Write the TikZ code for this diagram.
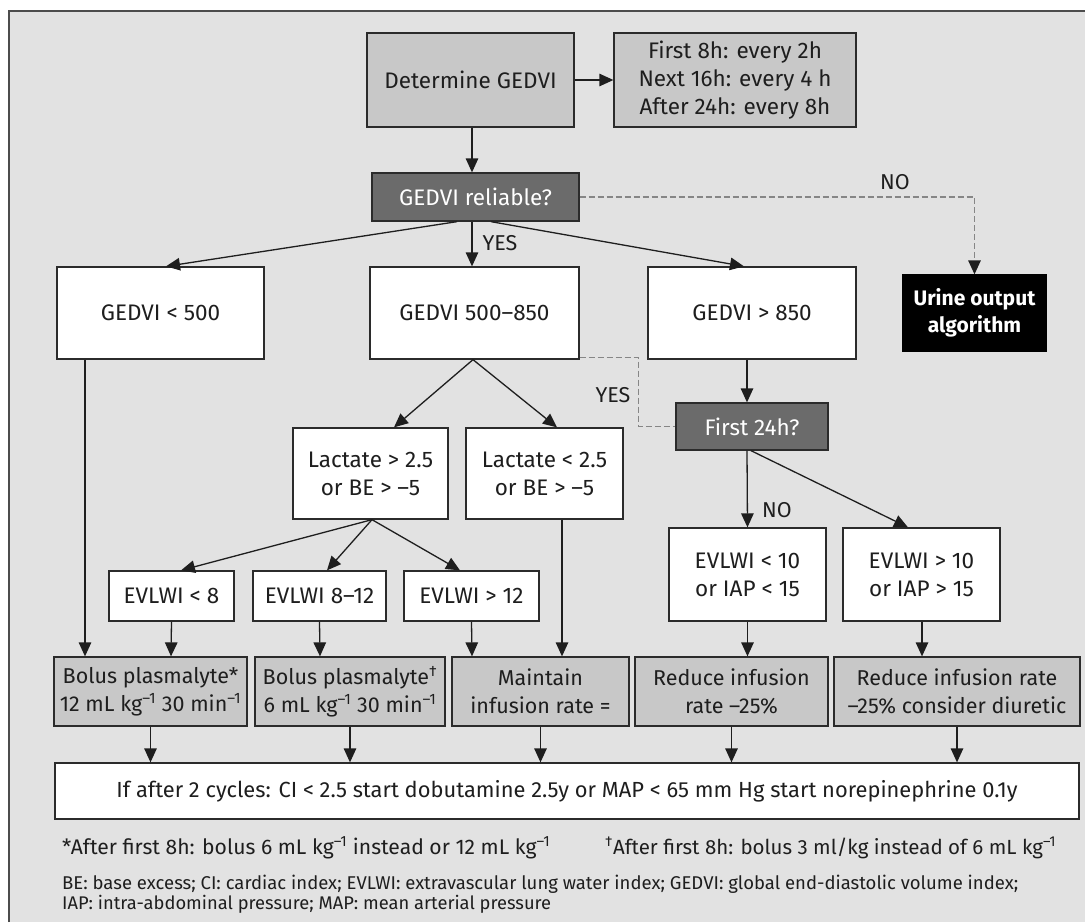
\documentclass[tikz,border=0pt]{standalone}
\usepackage{fontspec}
\usepackage{graphicx}
\setmainfont{Fira Sans}
\usetikzlibrary{arrows.meta,calc}
\definecolor{bg}{HTML}{E2E2E2}
\definecolor{boxgray}{HTML}{C8C8C8}
\definecolor{darkfill}{HTML}{6B6B6B}
\definecolor{edge}{HTML}{2B2B2B}
\definecolor{dashgray}{HTML}{868686}
\definecolor{ink}{HTML}{1E1E1E}
\newcommand{\fitto}[2]{\resizebox{#1}{!}{#2}}
\begin{document}
\begin{tikzpicture}[x=1pt,y=-1pt,
  box/.style={draw=edge, line width=1.3pt, fill=white, align=center, inner sep=0pt,
    font=\fontsize{22.5}{28}\selectfont, text=ink},
  graybox/.style={box, fill=boxgray},
  actbox/.style={box, fill=boxgray, font=\fontsize{21.5}{28}\selectfont},
  darkbox/.style={box, fill=darkfill, text=white},
  blackbox/.style={box, fill=black, draw=black, text=white, font=\fontsize{21}{27}\selectfont\bfseries},
  arr/.style={line width=1.3pt, draw=ink, -{Triangle[length=14pt,width=12.5pt]}},
  dashln/.style={line width=1.4pt, draw=dashgray, dash pattern=on 6pt off 3pt},
  lbl/.style={font=\fontsize{21.5}{22}\selectfont, inner sep=0pt, text=ink},
  note/.style={inner sep=0pt, anchor=west, text=ink, font=\fontsize{20}{24}\selectfont}]
\useasboundingbox (0,0) rectangle (1085,922);
\fill[bg] (9,11) rectangle (1085,922);
\draw[line width=2pt, draw=black!70] (9,922) -- (9,11) -- (1085,11);

% top
\node[graybox, minimum width=207pt, minimum height=94pt] (det) at (470.5,80) {Determine GEDVI};
\node[graybox, minimum width=242pt, minimum height=94pt] (sched) at (735,80) {First 8h: every 2h\\Next 16h: every 4 h\\After 24h: every 8h};
\node[darkbox, minimum width=207pt, minimum height=48pt] (rel) at (475.5,197) {GEDVI reliable?};
\node[blackbox, minimum width=143pt, minimum height=76pt] (urine) at (974.5,313) {Urine output\\algorithm};

% GEDVI level
\node[box, minimum width=207pt, minimum height=92pt] (g500) at (160.5,313) {GEDVI < 500};
\node[box, minimum width=209pt, minimum height=92pt] (gmid) at (474.5,313) {GEDVI 500–850};
\node[box, minimum width=208pt, minimum height=92pt] (g850) at (752,313) {GEDVI > 850};
\node[darkbox, minimum width=152pt, minimum height=47pt] (first) at (752,426.5) {First 24h?};

% lactate level
\node[box, minimum width=155pt, minimum height=91pt] (lacH) at (370.5,473.5) {Lactate > 2.5\\or BE > –5};
\node[box, minimum width=157pt, minimum height=91pt] (lacL) at (544.5,473.5) {Lactate < 2.5\\or BE > –5};

% EVLWI level
\node[box, minimum width=125pt, minimum height=50pt] (ev8) at (171.5,596) {EVLWI < 8};
\node[box, minimum width=133pt, minimum height=50pt] (ev812) at (319.5,596) {EVLWI 8–12};
\node[box, minimum width=135pt, minimum height=50pt] (ev12) at (471.5,596) {EVLWI > 12};
\node[box, minimum width=157pt, minimum height=93pt] (evL) at (747.5,574.5) {EVLWI < 10\\or IAP < 15};
\node[box, minimum width=157pt, minimum height=93pt] (evH) at (921.5,574.5) {EVLWI > 10\\or IAP > 15};

% actions
\node[actbox, minimum width=193pt, minimum height=69pt] (bol1) at (150.5,691.5) {Bolus plasmalyte*\\12 mL kg\textsuperscript{–1} 30 min\textsuperscript{–1}};
\node[actbox, minimum width=190pt, minimum height=69pt] (bol2) at (350,691.5) {Bolus plasmalyte\textsuperscript{†}\\6 mL kg\textsuperscript{–1} 30 min\textsuperscript{–1}};
\node[actbox, minimum width=177pt, minimum height=69pt] (maint) at (540.5,691.5) {Maintain\\infusion rate =};
\node[actbox, minimum width=193pt, minimum height=69pt] (red1) at (731.5,691.5) {Reduce infusion\\rate –25\%};
\node[actbox, minimum width=246pt, minimum height=69pt] (red2) at (957,691.5) {Reduce infusion rate\\–25\% consider diuretic};

\node[box, minimum width=1024pt, minimum height=56pt] (final) at (567,791) {\fitto{901pt}{If after 2 cycles: CI < 2.5 start dobutamine 2.5y or MAP < 65 mm Hg start norepinephrine 0.1y}};

% footnotes
\node[note] (fn1) at (62,848) {\fitto{488pt}{*After first 8h: bolus 6 mL kg\textsuperscript{–1} instead or 12 mL kg\textsuperscript{–1}}};
\node[note] (fn2) at (605,848) {\fitto{451pt}{\textsuperscript{†}After first 8h: bolus 3 ml/kg instead of 6 mL kg\textsuperscript{–1}}};
\node[note] (ab1) at (62,884) {\fitto{956pt}{BE: base excess; CI: cardiac index; EVLWI: extravascular lung water index; GEDVI: global end-diastolic volume index;}};
\node[note] (ab2) at (62,904) {\fitto{489pt}{IAP: intra-abdominal pressure; MAP: mean arterial pressure}};

% connectors top
\draw[arr] (det.east) -- (sched.west);
\draw[arr] ([xshift=1.5pt]det.south) -- ([xshift=-3.5pt]rel.north);
\draw[arr] ([xshift=-18.5pt]rel.south) -- ([xshift=5.5pt]g500.north);
\draw[arr] ([xshift=-3.5pt]rel.south) -- ([xshift=-2.5pt]gmid.north);
\draw[arr] ([xshift=15.5pt]rel.south) -- ([xshift=-8pt]g850.north);
\draw[dashln, -{Triangle[length=14pt,width=12.5pt,ink]}] (rel.east) -| (urine.north);
\node[lbl] (no1) at (895,182) {NO};
\node[lbl] (yes1) at (500,243) {YES};

% from GEDVI level
\draw[arr] ([xshift=-75.5pt]g500.south) -- ([xshift=-65.5pt]bol1.north);
\draw[arr] ([xshift=-1.5pt]gmid.south) -- ([xshift=23.5pt]lacH.north);
\draw[arr] ([xshift=-1.5pt]gmid.south) -- ([xshift=12.5pt]lacL.north);
\draw[dashln] ([yshift=2pt]gmid.south east) -- ++(59,0) coordinate (ybend) |- (first.west);
\node[lbl] (yes2) at (613,395) {YES};
\draw[arr] ([xshift=-5pt]g850.south) -- ([xshift=-5pt]first.north);

% from First 24h
\draw[arr] ([xshift=-5pt]first.south) -- (evL.north);
\draw[arr] ([xshift=-1pt]first.south) -- ([xshift=-13.5pt]evH.north);
\node[lbl] (no2) at (777,510) {NO};

% from lactate
\draw[arr] ([xshift=1.5pt]lacH.south) -- ([xshift=9.5pt]ev8.north);
\draw[arr] ([xshift=1.5pt]lacH.south) -- ([xshift=7.5pt]ev812.north);
\draw[arr] ([xshift=1.5pt]lacH.south) -- ([xshift=-11.5pt]ev12.north);
\draw[arr] ([xshift=17.5pt]lacL.south) -- ([xshift=21.5pt]maint.north);

% from EVLWI
\draw[arr] (ev8.south) -- ([xshift=20.5pt]bol1.north);
\draw[arr] (ev812.south) -- ([xshift=-30pt]bol2.north);
\draw[arr] (ev12.south) -- ([xshift=-68.5pt]maint.north);
\draw[arr] (evL.south) -- ([xshift=16pt]red1.north);
\draw[arr] ([xshift=0.5pt]evH.south) -- ([xshift=-35pt]red2.north);

% to final
\draw[arr] (bol1.south) -- (bol1.south |- final.north);
\draw[arr] (bol2.south) -- (bol2.south |- final.north);
\draw[arr] (maint.south) -- (maint.south |- final.north);
\draw[arr] (red1.south) -- (red1.south |- final.north);
\draw[arr] (red2.south) -- (red2.south |- final.north);
\end{tikzpicture}
\end{document}
